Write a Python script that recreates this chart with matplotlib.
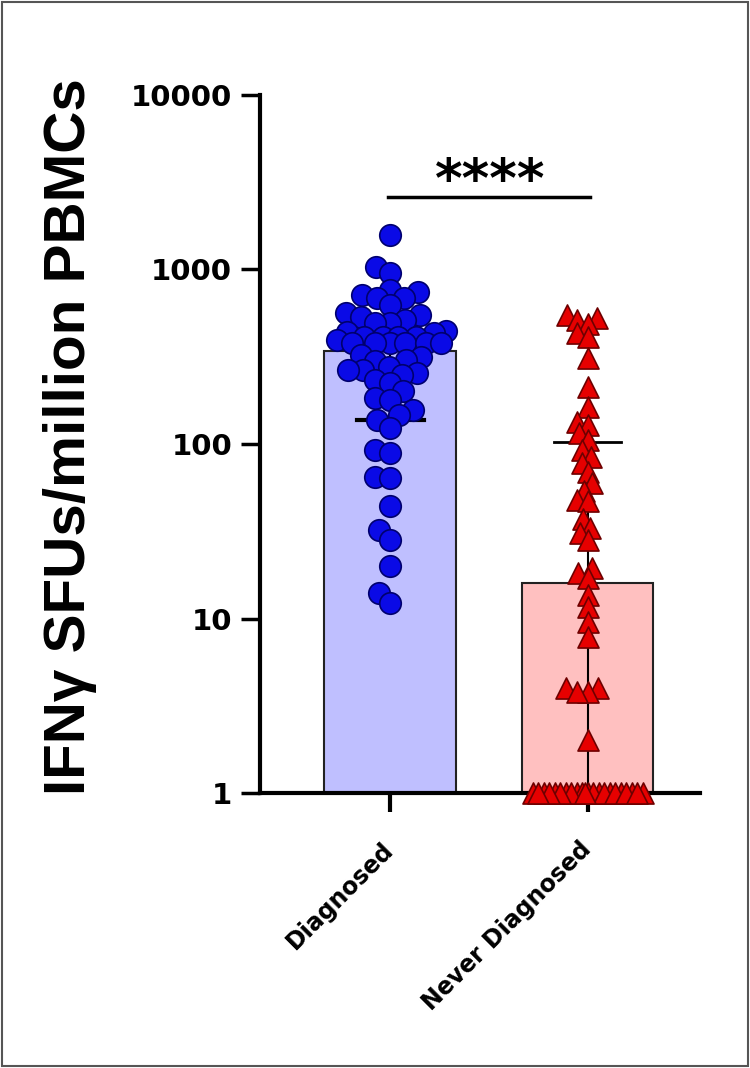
import numpy as np
import matplotlib
matplotlib.use('Agg')
import matplotlib.pyplot as plt
from matplotlib.patches import Rectangle
from matplotlib.ticker import NullLocator

# values
categories = ['Diagnosed', 'Never Diagnosed']
diagnosed = [1580, 1030, 955, 765, 740, 716, 687, 687, 626, 560, 550, 534, 515,
             495, 495, 445, 438, 434, 410, 410, 410, 410, 395, 380, 380, 380, 380,
             380, 380, 323, 315, 303, 300, 275, 265, 265, 255, 250, 232, 223, 200,
             183, 179, 157, 146, 137, 124, 92, 89, 65, 64, 44, 32, 28, 20, 14, 12.3]
never_diagnosed = [550, 530, 515, 490, 430, 410, 310, 212, 163, 134, 128, 115, 105,
                   92, 84, 78, 69, 60, 54, 48, 47, 37, 33, 31, 28, 19.5, 18.3, 17,
                   13.6, 11.6, 9.5, 7.8, 4, 4, 3.8, 3.8, 2] + [1] * 22
bar_values = [341, 16]
err_ends = [137, 103]
yticks = [1, 10, 100, 1000, 10000]
sig_label = '****'

W, H, DPI = 750, 1068, 100
fig = plt.figure(figsize=(W / DPI, H / DPI), dpi=DPI)
ax = fig.add_axes([260 / W, 1 - 793 / H, 440 / W, 698 / H])
ax.set_yscale('log')
ax.set_ylim(1, 10000)
ax.set_xlim(-0.66, 1.57)

# pixel scales for the swarm layout
pos = ax.get_position()
px_per_x = pos.width * W / (1.57 + 0.66)
px_per_dec = pos.height * H / 4


def swarm_offsets(values, spacing, max_half):
    y = np.log10(values) * px_per_dec
    cands = np.arange(-max_half, max_half + 0.25, 0.5)
    px, py = [], []
    out = np.zeros(len(y))
    for i in np.argsort(y, kind='stable'):
        if px:
            d = np.sqrt((cands[:, None] - np.array(px)[None, :]) ** 2 +
                        (y[i] - np.array(py)[None, :]) ** 2).min(axis=1)
        else:
            d = np.full(len(cands), np.inf)
        ok = d >= spacing
        if ok.any():
            c = cands[ok][np.argmin(np.abs(cands[ok]))]
        else:
            c = cands[np.argmax(d - 1e-3 * np.abs(cands))]
        out[i] = c
        px.append(c)
        py.append(y[i])
    return out / px_per_x


bar_w = 0.667
face = ['#bfbfff', '#ffc0c0']
ax.bar([0, 1], np.array(bar_values) - 1, bottom=1, width=bar_w, color=face,
       edgecolor='#222222', linewidth=1.5, zorder=1)

# error lines
ax.plot([0, 0], [err_ends[0], bar_values[0]], color='black', lw=1.5, zorder=2)
ax.plot([-0.17, 0.17], [err_ends[0], err_ends[0]], color='black', lw=3, zorder=2)
ax.plot([1, 1], [1, err_ends[1]], color='black', lw=1.5, zorder=2)
ax.plot([0.83, 1.17], [err_ends[1], err_ends[1]], color='black', lw=2, zorder=2)

xb = swarm_offsets(diagnosed, 15, 56)
xr = swarm_offsets(never_diagnosed, 11, 56)
ax.scatter(0 + xb, diagnosed, s=240, marker='o', c='#0a0ae6', edgecolors='#00006e',
           linewidths=1.2, zorder=3, clip_on=False)
ax.scatter(1 + xr, never_diagnosed, s=230, marker='^', c='#e60000', edgecolors='#6e0000',
           linewidths=1.2, zorder=3, clip_on=False)

# significance
ax.plot([-0.01, 1.01], [2600, 2600], color='black', lw=2.5, clip_on=False)
ax.text(0.505, 2600, sig_label, ha='center', va='baseline', fontsize=38,
        fontweight='bold', family='DejaVu Sans')

for s in ['top', 'right']:
    ax.spines[s].set_visible(False)
for s in ['left', 'bottom']:
    ax.spines[s].set_linewidth(3)
ax.set_yticks(yticks)
ax.set_yticklabels([str(v) for v in yticks])
ax.yaxis.set_minor_locator(NullLocator())
ax.tick_params(axis='y', length=14, width=2.5, pad=6, labelsize=21)
for t in ax.get_yticklabels():
    t.set_fontweight('bold')
    t.set_family('DejaVu Sans')

ax.set_xticks([0, 1])
ax.set_xticklabels(categories, rotation=45, ha='right', va='center',
                   rotation_mode='anchor', fontsize=17, fontweight='bold',
                   family='DejaVu Sans')
ax.tick_params(axis='x', length=14, width=3, pad=24)

ax.set_ylabel('IFNγ SFUs/million PBMCs', fontsize=42, fontweight='bold',
              family='Liberation Sans')
ax.yaxis.set_label_coords(-0.37, 0.51)

fig.add_artist(Rectangle((0.003, 0.002), 0.994, 0.996, transform=fig.transFigure,
                         fill=False, ec='#555555', lw=1.5))

fig.savefig('out.png', dpi=DPI)
